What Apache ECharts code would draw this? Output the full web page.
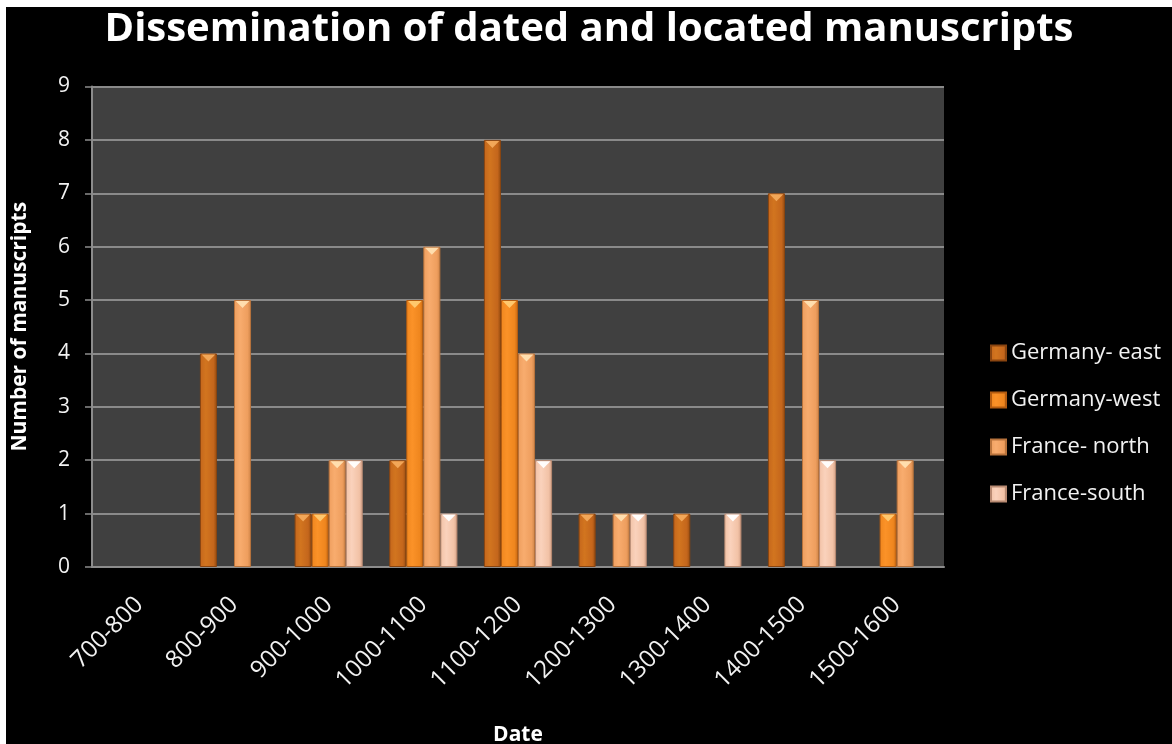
<!DOCTYPE html>
<html>
<head>
<meta charset="utf-8">
<title>Dissemination of dated and located manuscripts</title>
<script src="https://cdn.jsdelivr.net/npm/echarts@6/dist/echarts.min.js"></script>
<style>
  html, body { margin: 0; padding: 0; background: #ffffff; width: 1172px; height: 744px; overflow: hidden; }
  #chart { position: absolute; left: 6px; top: 7px; width: 1166px; height: 737px; background: #000000; }
</style>
</head>
<body>
<div id="chart"></div>
<script>
// Centuries on the category axis
const periods = ['700-800', '800-900', '900-1000', '1000-1100', '1100-1200', '1200-1300', '1300-1400', '1400-1500', '1500-1600'];

// Manuscript counts per region and century
const germanyEast  = [0, 4, 1, 2, 8, 1, 1, 7, 0];
const germanyWest  = [0, 0, 1, 5, 5, 0, 0, 0, 1];
const franceNorth  = [0, 5, 2, 6, 4, 1, 0, 5, 2];
const franceSouth  = [0, 0, 2, 1, 2, 1, 1, 2, 0];

const yTicks = { min: 0, max: 9, interval: 1 };

const FONT = '"Open Sans", "Noto Sans", "DejaVu Sans", sans-serif';

const regions = [
  { name: 'Germany- east', data: germanyEast, light: '#d2751f', base: '#c4661c', dark: '#954b10', cap: '#f3aa5c', border: '#8a4510' },
  { name: 'Germany-west',  data: germanyWest, light: '#fb9228', base: '#ef861e', dark: '#c46612', cap: '#ffcb72', border: '#b45c10' },
  { name: 'France- north', data: franceNorth, light: '#f8ac6e', base: '#ee9e5e', dark: '#cc8246', cap: '#ffe0b2', border: '#b8733c' },
  { name: 'France-south',  data: franceSouth, light: '#fad2bc', base: '#f2c2a6', dark: '#d09e84', cap: '#ffffff', border: '#b88a72' }
];

function barGradient(r) {
  return new echarts.graphic.LinearGradient(0, 0, 1, 0, [
    { offset: 0, color: r.base },
    { offset: 0.35, color: r.light },
    { offset: 0.8, color: r.base },
    { offset: 1, color: r.dark }
  ]);
}

// empty cells are left blank instead of drawn as zero-height bars
const blankZero = v => (v > 0 ? v : '-');

const series = [];
regions.forEach(r => {
  series.push({
    name: r.name,
    type: 'bar',
    data: r.data.map(blankZero),
    barGap: '0%',
    barCategoryGap: '28%',
    itemStyle: { color: barGradient(r), borderColor: r.border, borderWidth: 1 },
    emphasis: { disabled: true },
    z: 2
  });
});
// bevelled caps on top of each bar
regions.forEach(r => {
  series.push({
    name: r.name + ' cap',
    type: 'pictorialBar',
    data: r.data.map(blankZero),
    barGap: '0%',
    barCategoryGap: '28%',
    symbol: 'path://M0,0 L10,0 L5,5 Z',
    symbolSize: ['80%', 7],
    symbolPosition: 'end',
    symbolOffset: [0, 1],
    itemStyle: { color: r.cap, opacity: 0.95 },
    silent: true,
    emphasis: { disabled: true },
    z: 3
  });
});

const chart = echarts.init(document.getElementById('chart'), null, { renderer: 'canvas' });
chart.setOption({
  backgroundColor: '#000000',
  animation: false,
  title: {
    text: 'Dissemination of dated and located manuscripts',
    left: 'center',
    top: -2,
    textStyle: { color: '#ffffff', fontFamily: FONT, fontWeight: 'bold', fontSize: 40 }
  },
  legend: {
    data: regions.map(r => r.name),
    orient: 'vertical',
    left: 979,
    top: 330,
    itemGap: 25,
    itemWidth: 15,
    itemHeight: 15,
    icon: 'rect',
    textStyle: { color: '#f2f2f2', fontFamily: FONT, fontSize: 22 }
  },
  grid: {
    left: 86,
    top: 79.5,
    right: 228,
    bottom: 177,
    containLabel: false,
    outerBoundsMode: 'none',
    show: true,
    backgroundColor: '#404040',
    borderWidth: 0
  },
  xAxis: {
    type: 'category',
    data: periods,
    name: 'Date',
    nameLocation: 'middle',
    nameGap: 158,
    nameTextStyle: { color: '#ffffff', fontFamily: FONT, fontWeight: 'bold', fontSize: 21 },
    axisLine: { lineStyle: { color: '#8c8c8c', width: 2 } },
    axisTick: { show: false },
    axisLabel: {
      color: '#f2f2f2', fontFamily: FONT, fontSize: 24,
      rotate: 45, margin: 34, interval: 0
    }
  },
  yAxis: {
    type: 'value',
    min: yTicks.min,
    max: yTicks.max,
    interval: yTicks.interval,
    name: 'Number of manuscripts',
    nameLocation: 'middle',
    nameGap: 61,
    nameTextStyle: { color: '#ffffff', fontFamily: FONT, fontWeight: 'bold', fontSize: 21 },
    axisLine: { show: true, lineStyle: { color: '#8c8c8c', width: 2 } },
    axisTick: { show: true, length: 7, lineStyle: { color: '#8c8c8c', width: 1.5 } },
    axisLabel: { color: '#f2f2f2', fontFamily: FONT, fontSize: 21, margin: 22 },
    splitLine: { lineStyle: { color: '#8a8a8a', width: 2 } }
  },
  series: series
});
</script>
</body>
</html>
